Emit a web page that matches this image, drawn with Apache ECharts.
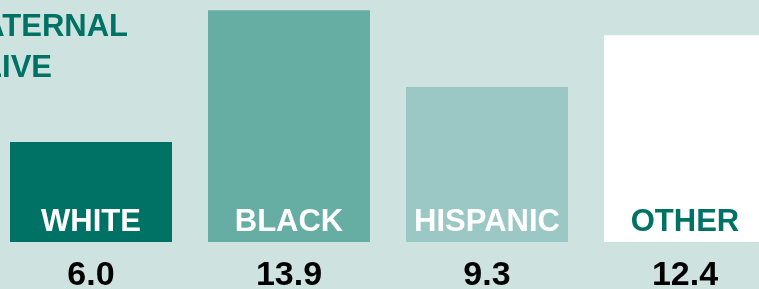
<!DOCTYPE html>
<html lang="en">
<head>
    <meta charset="UTF-8">
    <title>Maternal deaths by race</title>
    <script src="https://cdn.jsdelivr.net/npm/echarts@6/dist/echarts.min.js"></script>
    <style>
        html, body { margin: 0; padding: 0; background: #cee3e0; }
        #main { width: 759px; height: 289px; }
    </style>
</head>
<body>
<div id="main"></div>
<script type="text/javascript">
    // data
    var categories = ['WHITE', 'BLACK', 'HISPANIC', 'OTHER'];
    var values = [6.0, 13.9, 9.3, 12.4];
    var barColors = ['#007265', '#66ada4', '#9bc8c4', '#ffffff'];
    var labelColors = ['#ffffff', '#ffffff', '#ffffff', '#007265'];
    var titleLines = ['MATERNAL', 'LIVE'];

    var myChart = echarts.init(document.getElementById('main'));

    var barData = values.map(function (v, i) {
        return {
            value: v,
            itemStyle: {color: barColors[i]},
            label: {color: labelColors[i]}
        };
    });

    var option = {
        backgroundColor: '#cee3e0',
        animation: false,
        grid: {
            left: -8,
            top: -8,
            width: 792,
            height: 250,
            containLabel: false,
            outerBoundsMode: 'none'
        },
        xAxis: {
            type: 'category',
            data: categories,
            axisLine: {show: false},
            axisTick: {show: false},
            axisLabel: {
                margin: 17,
                fontFamily: 'Liberation Sans, Arial, sans-serif',
                fontWeight: 'bold',
                fontSize: 34,
                lineHeight: 34,
                color: '#000000',
                formatter: function (val, idx) {
                    return values[idx].toFixed(1);
                }
            }
        },
        yAxis: {
            type: 'value',
            min: 0,
            max: 15,
            show: false
        },
        series: [
            {
                type: 'bar',
                barWidth: 162,
                data: barData,
                label: {
                    show: true,
                    position: 'insideBottom',
                    distance: 4,
                    formatter: '{b}',
                    fontFamily: 'Liberation Sans, Arial, sans-serif',
                    fontWeight: 'bold',
                    fontSize: 31,
                    lineHeight: 32
                }
            }
        ],
        graphic: [
            {
                type: 'text',
                right: 759 - 128,
                top: 12,
                style: {
                    text: titleLines[0],
                    fill: '#007265',
                    font: 'bold 31px "Liberation Sans", Arial, sans-serif'
                }
            },
            {
                type: 'text',
                right: 759 - 52,
                top: 53,
                style: {
                    text: titleLines[1],
                    fill: '#007265',
                    font: 'bold 31px "Liberation Sans", Arial, sans-serif'
                }
            }
        ]
    };

    myChart.setOption(option);
</script>
</body>
</html>
